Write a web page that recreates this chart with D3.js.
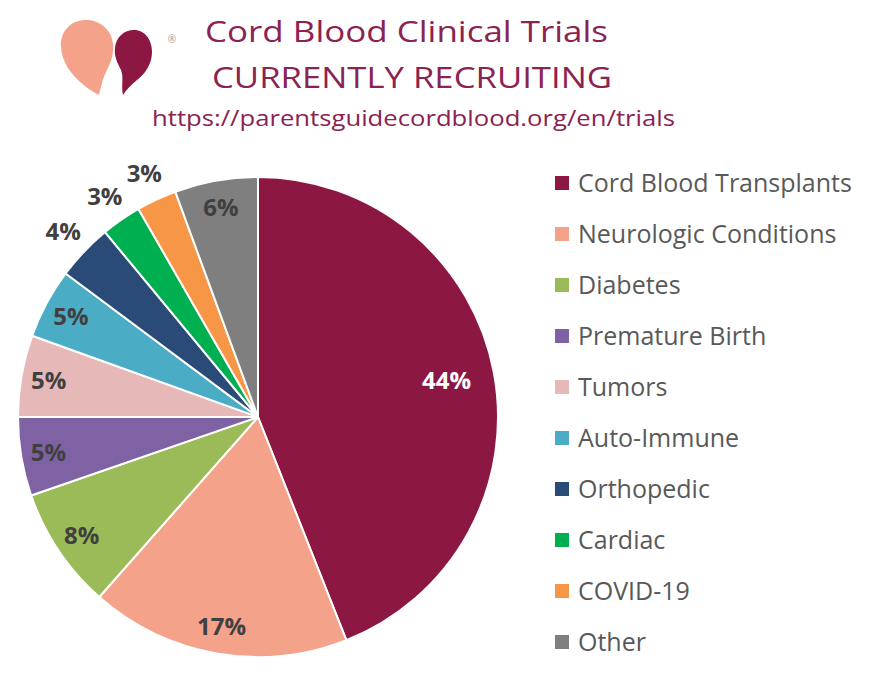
<!DOCTYPE html>
<html><head><meta charset="utf-8">
<script src="https://cdn.jsdelivr.net/npm/d3@7"></script>
<style>body{margin:0;background:#fff;}svg{display:block;}</style>
</head><body>
<svg id="chart" width="872" height="675"></svg>
<script>
const categories = ["Cord Blood Transplants","Neurologic Conditions","Diabetes","Premature Birth","Tumors","Auto-Immune","Orthopedic","Cardiac","COVID-19","Other"];
const shares = [44.0,17.5,8.2,5.3,5.5,4.7,3.8,2.7,2.7,5.6];
const pctLabels = ["44%","17%","8%","5%","5%","5%","4%","3%","3%","6%"];
const colors = ["#8C1742","#F4A38A","#9BBB59","#7F62A3","#E6B9B8","#4BACC6","#2A4B77","#00B050","#F79646","#7F7F7F"];
const titleLines = ["Cord Blood Clinical Trials","CURRENTLY RECRUITING"];
const urlText = "https://parentsguidecordblood.org/en/trials";

const svg = d3.select("#chart");
const font = "'Open Sans', Lato, sans-serif";

// Logo
const logo = svg.append("g");
logo.append("path").attr("fill","#F4A38A")
  .attr("d","M99,95 C85,88 62,70 61,47 C60,30 72,20 86,20 C100,20 112,30 113,44 C114,56 110,64 106,72 C102,80 101,88 99,95 Z");
logo.append("path").attr("fill","#8C1742")
  .attr("d","M123,95 C121,85 124,78 121,70 C117,62 114,56 115,48 C116,37 124,30 134,30 C145,30 152,40 152,52 C152,64 145,74 137,80 C131,85 126,90 123,95 Z");
svg.append("text").attr("x",172).attr("y",43).attr("text-anchor","middle")
  .attr("font-family",font).attr("font-size",10).attr("fill","#9a9a9a").text("®");

// Titles
const titleSpec = [{x:406.5,y:42,len:403},{x:412,y:88,len:400}];
svg.selectAll(".title").data(titleLines).join("text").attr("class","title")
  .attr("x",(d,i)=>titleSpec[i].x).attr("y",(d,i)=>titleSpec[i].y).attr("text-anchor","middle")
  .attr("textLength",(d,i)=>titleSpec[i].len).attr("lengthAdjust","spacingAndGlyphs")
  .attr("font-family",font).attr("font-size",30).attr("fill","#8B2252").text(d=>d);
svg.append("text").attr("x",413.5).attr("y",126).attr("text-anchor","middle")
  .attr("textLength",523).attr("lengthAdjust","spacingAndGlyphs")
  .attr("font-family",font).attr("font-size",21).attr("fill","#8B2252").text(urlText);

// Pie
const cx = 258, cy = 417, R = 240;
const data = categories.map((c,i)=>({cat:c,value:shares[i],label:pctLabels[i],color:colors[i]}));
const pie = d3.pie().value(d=>d.value).sort(null);
const arcs = pie(data);
const arc = d3.arc().innerRadius(0).outerRadius(R);
const g = svg.append("g").attr("transform",`translate(${cx},${cy})`);
g.selectAll("path").data(arcs).join("path")
  .attr("d",arc).attr("fill",d=>d.data.color)
  .attr("stroke","#fff").attr("stroke-width",2).attr("stroke-linejoin","round");

const maxV = d3.max(shares);
function labelR(v){ return v===maxV ? 0.8*R : (v>=4.5 ? 0.885*R : 1.12*R); }
g.selectAll("text.lbl").data(arcs).join("text").attr("class","lbl")
  .attr("transform",d=>{
    const a=(d.startAngle+d.endAngle)/2, r=labelR(d.data.value);
    return `translate(${Math.sin(a)*r},${-Math.cos(a)*r})`;
  })
  .attr("text-anchor","middle").attr("dy","0.35em")
  .attr("font-family",font).attr("font-weight","bold").attr("font-size",24)
  .attr("fill",d=>d.data.value===maxV?"#ffffff":"#404040")
  .text(d=>d.data.label);

// Legend
const leg = svg.append("g");
const rows = leg.selectAll("g").data(data).join("g")
  .attr("transform",(d,i)=>`translate(555,${183+i*51})`);
rows.append("rect").attr("x",0).attr("y",-7).attr("width",14).attr("height",14).attr("fill",d=>d.color);
rows.append("text").attr("x",23).attr("dy","0.35em")
  .attr("font-family",font).attr("font-size",25).attr("fill","#595959").text(d=>d.cat);
</script>
</body></html>
